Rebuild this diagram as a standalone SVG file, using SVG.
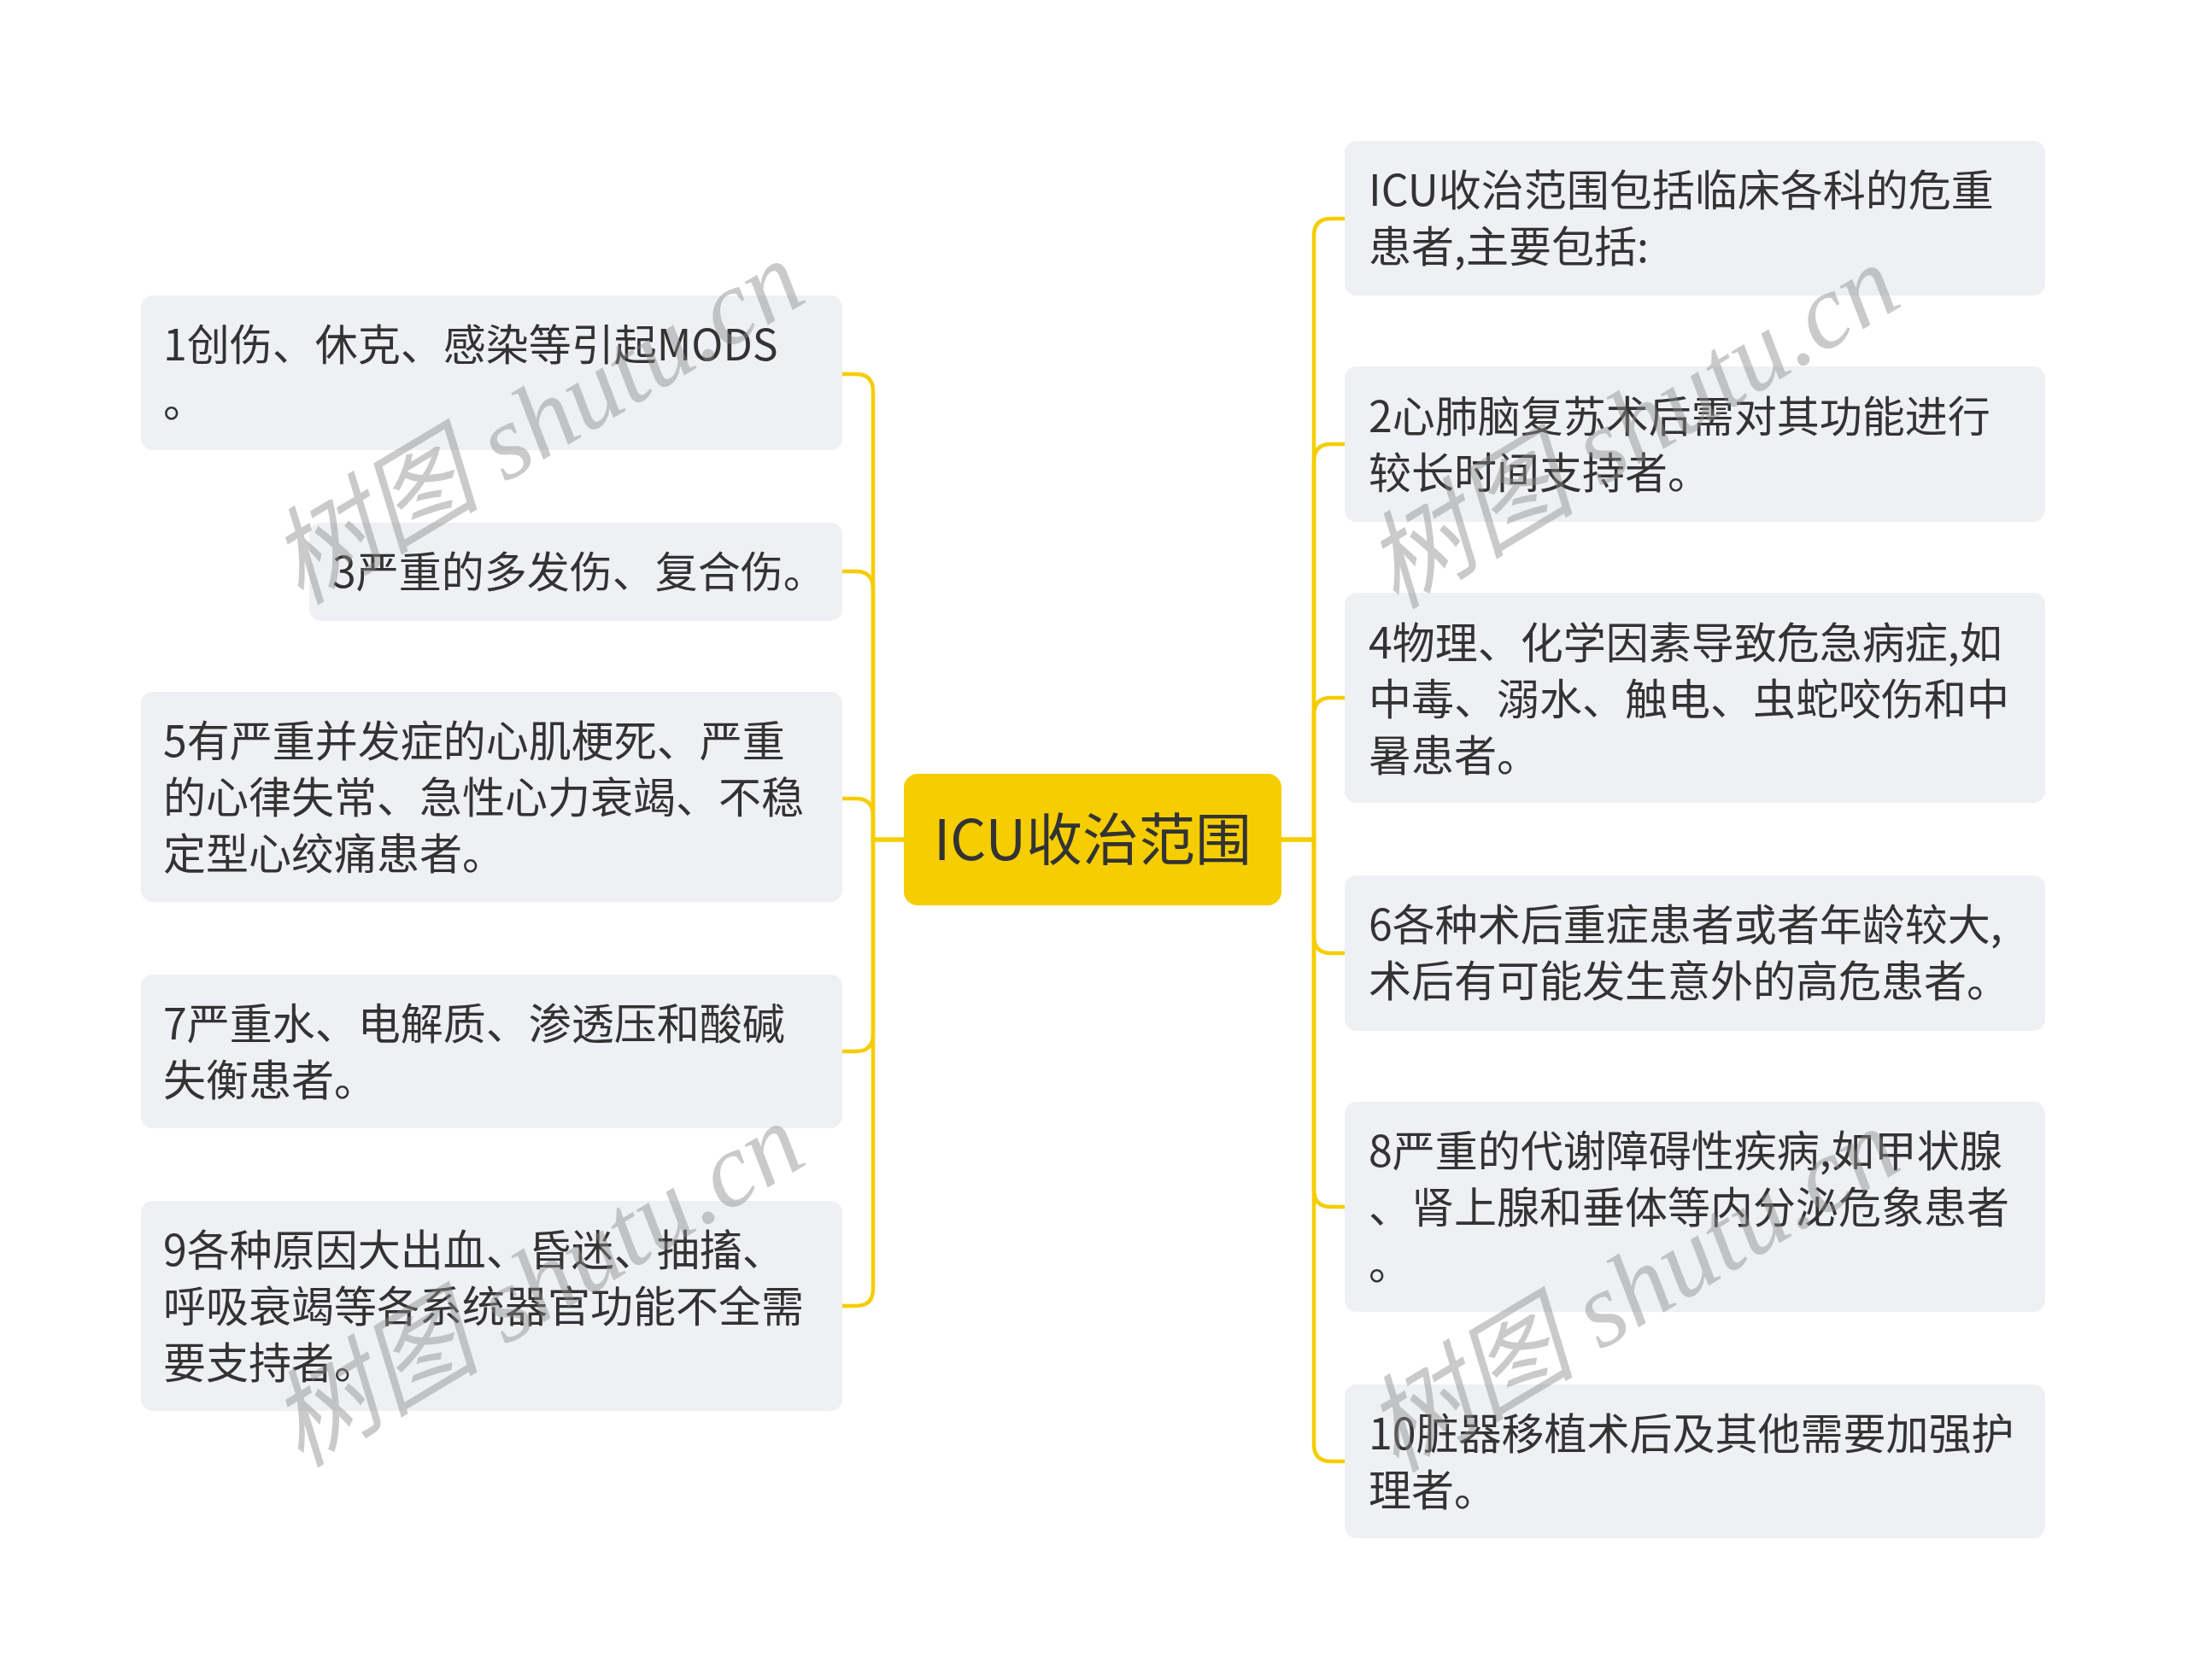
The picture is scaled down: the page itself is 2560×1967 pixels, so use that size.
<svg xmlns="http://www.w3.org/2000/svg" width="2560" height="1967" viewBox="0 0 2560 1967">
<style>
.bg{fill:#ffffff}
.node rect{fill:#EEF0F3}
.node text{font-family:"Noto Sans CJK SC","Noto Sans",sans-serif;font-size:50px;fill:#333333}
.root rect{fill:#F5CD00}
.root text{font-family:"Noto Sans CJK SC","Noto Sans",sans-serif;font-size:66px;fill:#333333}
.conn path{fill:none;stroke:#F5CD00;stroke-width:4.5;stroke-linecap:round}
.wm{font-family:"Liberation Serif","Noto Sans CJK SC",serif;font-size:124px;font-style:italic;fill:#8a8a8a;fill-opacity:0.45}
</style>
<rect class="bg" x="0" y="0" width="2560" height="1967"/>
<g id="connectors" class="conn">
<path d="M1058,983 H1022 V458 Q1022,438 1002,438 H986"/>
<path d="M1058,983 H1022 V689 Q1022,669 1002,669 H986"/>
<path d="M1058,983 H1022 V955 Q1022,935 1002,935 H986"/>
<path d="M1058,983 H1022 V1211 Q1022,1231 1002,1231 H986"/>
<path d="M1058,983 H1022 V1509 Q1022,1529 1002,1529 H986"/>
<path d="M1500,983 H1538 V276 Q1538,256 1558,256 H1574"/>
<path d="M1500,983 H1538 V540 Q1538,520 1558,520 H1574"/>
<path d="M1500,983 H1538 V837 Q1538,817 1558,817 H1574"/>
<path d="M1500,983 H1538 V1096 Q1538,1116 1558,1116 H1574"/>
<path d="M1500,983 H1538 V1393 Q1538,1413 1558,1413 H1574"/>
<path d="M1500,983 H1538 V1691 Q1538,1711 1558,1711 H1574"/>
</g>
<g id="root" class="root">
<rect x="1058" y="906" width="442" height="154" rx="16"/>
<text x="1279" y="1007" text-anchor="middle">ICU收治范围</text>
</g>
<g id="n1" class="node">
<rect x="165" y="346" width="821" height="181" rx="14"/>
<text x="191" y="422">1创伤、休克、感染等引起MODS</text>
<text x="191" y="488">。</text>
</g>
<g id="n3" class="node">
<rect x="362" y="612" width="624" height="115" rx="14"/>
<text x="389" y="688">3严重的多发伤、复合伤。</text>
</g>
<g id="n5" class="node">
<rect x="165" y="810" width="821" height="246" rx="14"/>
<text x="191" y="886">5有严重并发症的心肌梗死、严重</text>
<text x="191" y="952">的心律失常、急性心力衰竭、不稳</text>
<text x="191" y="1018">定型心绞痛患者。</text>
</g>
<g id="n7" class="node">
<rect x="165" y="1141" width="821" height="180" rx="14"/>
<text x="191" y="1217">7严重水、电解质、渗透压和酸碱</text>
<text x="191" y="1283">失衡患者。</text>
</g>
<g id="n9" class="node">
<rect x="165" y="1406" width="821" height="246" rx="14"/>
<text x="191" y="1482">9各种原因大出血、昏迷、抽搐、</text>
<text x="191" y="1548">呼吸衰竭等各系统器官功能不全需</text>
<text x="191" y="1614">要支持者。</text>
</g>
<g id="r0" class="node">
<rect x="1574" y="165" width="820" height="181" rx="14"/>
<text x="1602" y="241">ICU收治范围包括临床各科的危重</text>
<text x="1602" y="307">患者,主要包括:</text>
</g>
<g id="r2" class="node">
<rect x="1574" y="429" width="820" height="182" rx="14"/>
<text x="1602" y="506">2心肺脑复苏术后需对其功能进行</text>
<text x="1602" y="572">较长时间支持者。</text>
</g>
<g id="r4" class="node">
<rect x="1574" y="694" width="820" height="246" rx="14"/>
<text x="1602" y="771">4物理、化学因素导致危急病症,如</text>
<text x="1602" y="837">中毒、溺水、触电、虫蛇咬伤和中</text>
<text x="1602" y="903">暑患者。</text>
</g>
<g id="r6" class="node">
<rect x="1574" y="1025" width="820" height="182" rx="14"/>
<text x="1602" y="1101">6各种术后重症患者或者年龄较大,</text>
<text x="1602" y="1167">术后有可能发生意外的高危患者。</text>
</g>
<g id="r8" class="node">
<rect x="1574" y="1290" width="820" height="246" rx="14"/>
<text x="1602" y="1366">8严重的代谢障碍性疾病,如甲状腺</text>
<text x="1602" y="1432">、肾上腺和垂体等内分泌危象患者</text>
<text x="1602" y="1498">。</text>
</g>
<g id="r10" class="node">
<rect x="1574" y="1621" width="820" height="180" rx="14"/>
<text x="1602" y="1697">10脏器移植术后及其他需要加强护</text>
<text x="1602" y="1763">理者。</text>
</g>
<g id="watermarks">
<text class="wm" text-anchor="middle" transform="translate(650,530) rotate(-31)">树图 shutu.cn</text>
<text class="wm" text-anchor="middle" transform="translate(650,1540) rotate(-31)">树图 shutu.cn</text>
<text class="wm" text-anchor="middle" transform="translate(1932,535) rotate(-31)">树图 shutu.cn</text>
<text class="wm" text-anchor="middle" transform="translate(1932,1546) rotate(-31)">树图 shutu.cn</text>
</g>
</svg>
